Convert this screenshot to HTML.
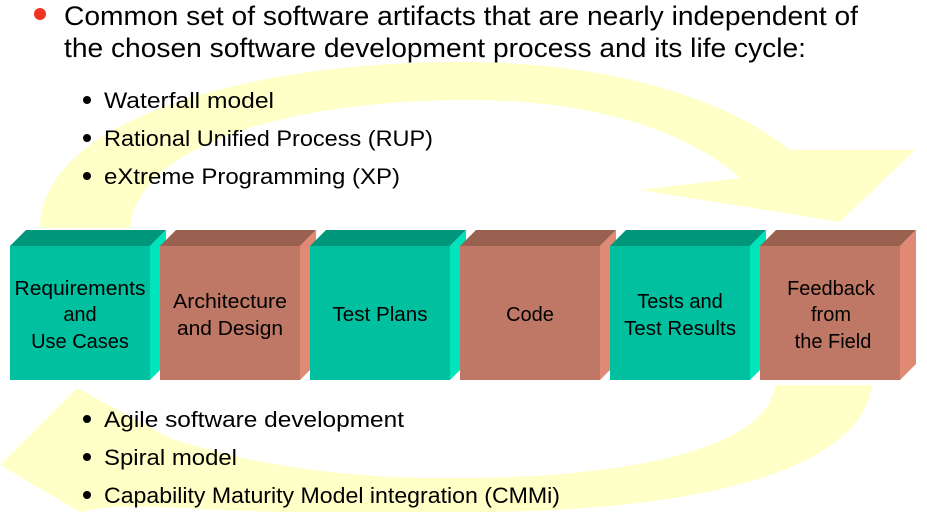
<!DOCTYPE html>
<html><head><meta charset="utf-8"><style>
body{margin:0;width:927px;height:512px;overflow:hidden;background:#fff;font-family:"Liberation Sans",sans-serif;}
svg{position:absolute;left:0;top:0}
</style></head><body>
<svg width="927" height="512" viewBox="0 0 927 512">
<g fill="#ffffc8">
<path d="M40,228 C40,120 250,60 470,62 C640,64 740,110 790,150 L915,150 L840,222 L640,190 L740,178 C680,125 580,100 470,100 C300,100 140,140 130,228 Z"/>
<path d="M872,385 C862,470 700,512 470,512 L300,512 C200,512 130,500 80,512 L0,465 L77,388 L170,438 C250,465 350,480 470,478 C660,476 770,440 775,385 Z"/>
</g>
<g font-family="Liberation Sans, sans-serif" fill="#000">
<circle cx="40" cy="14" r="6" fill="#ee3322"/>
<text x="64" y="25" font-size="27" textLength="794" lengthAdjust="spacingAndGlyphs">Common set of software artifacts that are nearly independent of</text>
<text x="64" y="57" font-size="27" textLength="742" lengthAdjust="spacingAndGlyphs">the chosen software development process and its life cycle:</text>
<g font-size="22">
<circle cx="87" cy="100" r="4"/><text x="104" y="108" textLength="170" lengthAdjust="spacingAndGlyphs">Waterfall model</text>
<circle cx="87" cy="138" r="4"/><text x="104" y="146" textLength="329" lengthAdjust="spacingAndGlyphs">Rational Unified Process (RUP)</text>
<circle cx="87" cy="176" r="4"/><text x="104" y="184" textLength="296" lengthAdjust="spacingAndGlyphs">eXtreme Programming (XP)</text>
<circle cx="87" cy="419" r="4"/><text x="104" y="427" textLength="300" lengthAdjust="spacingAndGlyphs">Agile software development</text>
<circle cx="87" cy="457" r="4"/><text x="104" y="465" textLength="133" lengthAdjust="spacingAndGlyphs">Spiral model</text>
<circle cx="87" cy="495" r="4"/><text x="104" y="503" textLength="456" lengthAdjust="spacingAndGlyphs">Capability Maturity Model integration (CMMi)</text>
</g>
</g>
<defs>
<g id="teal"><polygon points="0,16 16,0 156,0 140,16" fill="#00967c"/><polygon points="140,16 156,0 156,134 140,150" fill="#00e4bc"/><rect x="0" y="16" width="140" height="134" fill="#00c0a0"/></g>
<g id="brown"><polygon points="0,16 16,0 156,0 140,16" fill="#9a6050"/><polygon points="140,16 156,0 156,134 140,150" fill="#e08a76"/><rect x="0" y="16" width="140" height="134" fill="#c07866"/></g>
</defs>
<use href="#teal" x="10" y="230"/>
<use href="#brown" x="160" y="230"/>
<use href="#teal" x="310" y="230"/>
<use href="#brown" x="460" y="230"/>
<use href="#teal" x="610" y="230"/>
<use href="#brown" x="760" y="230"/>
<g font-family="Liberation Sans, sans-serif" font-size="20" fill="#000" text-anchor="middle">
<text x="80" y="295" textLength="131" lengthAdjust="spacingAndGlyphs">Requirements</text><text x="80" y="321">and</text><text x="80" y="348">Use Cases</text>
<text x="230" y="308" textLength="114" lengthAdjust="spacingAndGlyphs">Architecture</text><text x="230" y="335" textLength="106" lengthAdjust="spacingAndGlyphs">and Design</text>
<text x="380" y="321" textLength="95" lengthAdjust="spacingAndGlyphs">Test Plans</text>
<text x="530" y="321">Code</text>
<text x="680" y="308">Tests and</text><text x="680" y="335" textLength="112" lengthAdjust="spacingAndGlyphs">Test Results</text>
<text x="831" y="295">Feedback</text><text x="831" y="321">from</text><text x="833" y="348">the Field</text>
</g>
</svg>
</body></html>
